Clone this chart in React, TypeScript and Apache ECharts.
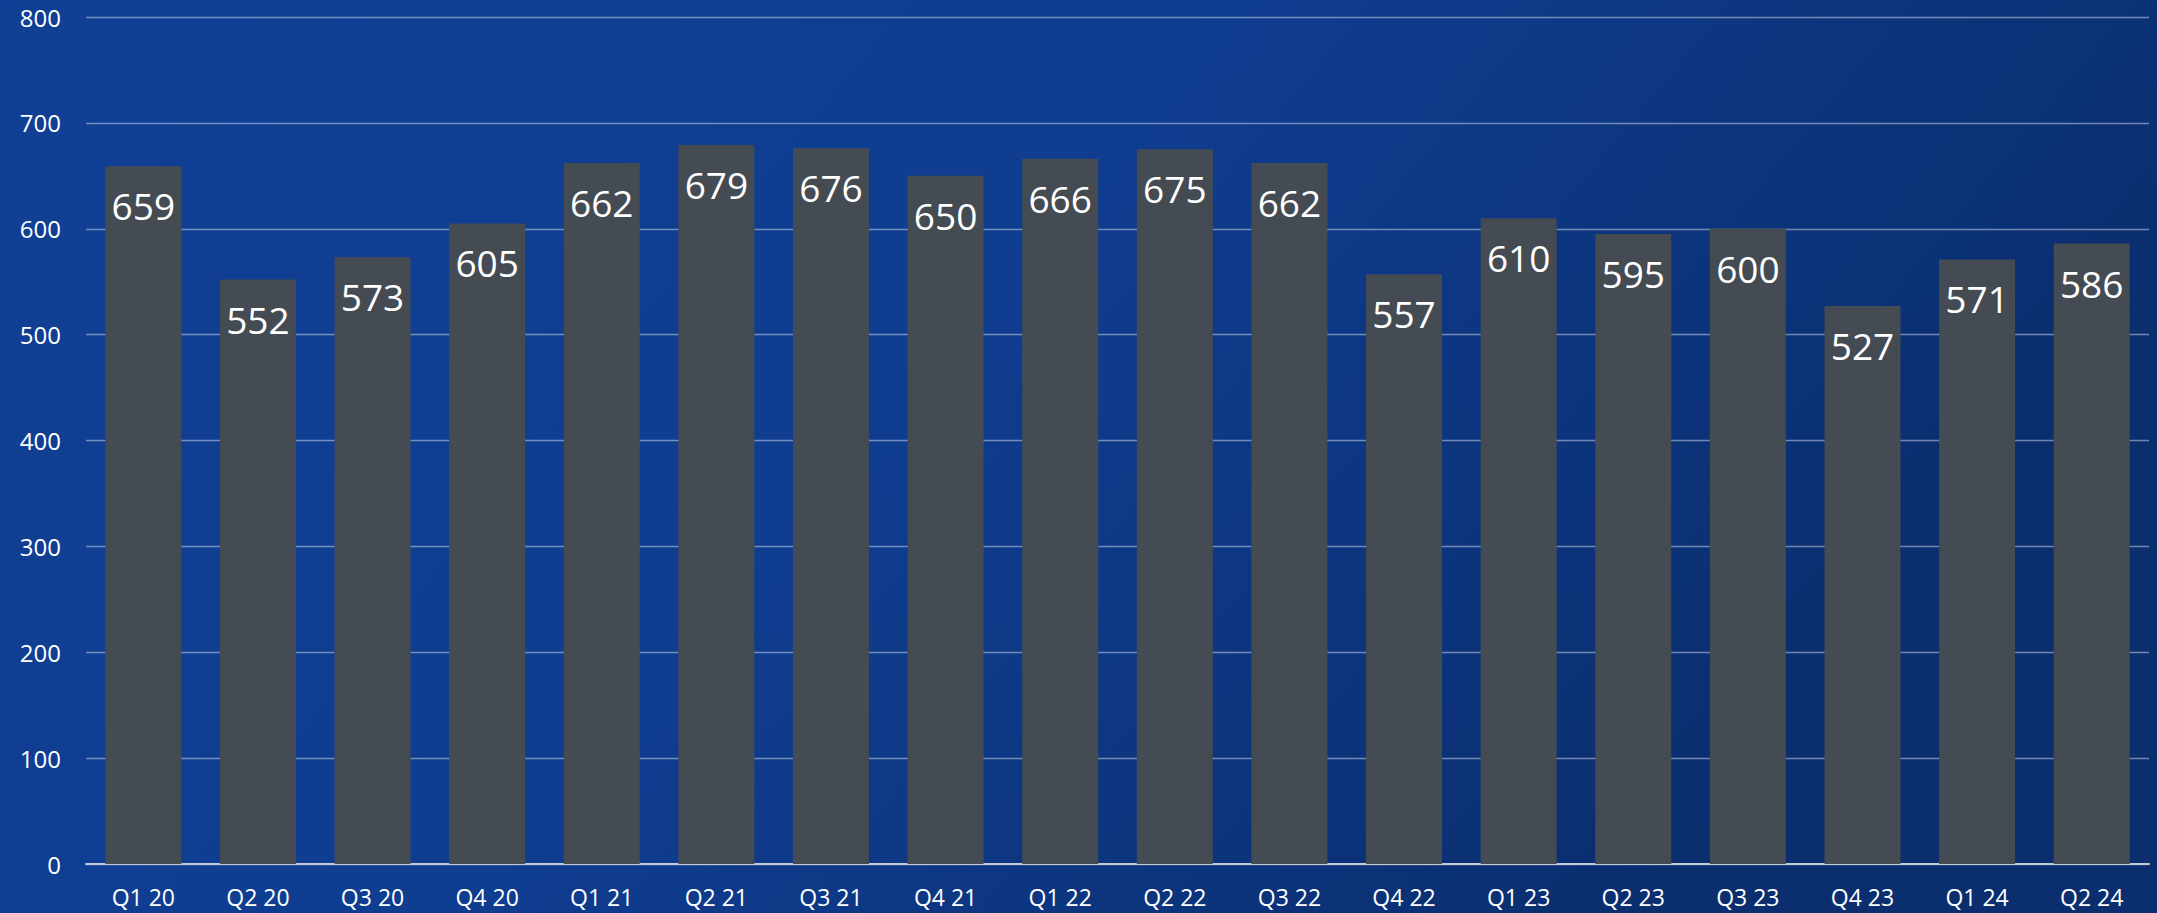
import React, { useEffect, useRef } from "react";
import * as echarts from "echarts";

const categories = [
  "Q1 20", "Q2 20", "Q3 20", "Q4 20",
  "Q1 21", "Q2 21", "Q3 21", "Q4 21",
  "Q1 22", "Q2 22", "Q3 22", "Q4 22",
  "Q1 23", "Q2 23", "Q3 23", "Q4 23",
  "Q1 24", "Q2 24",
];
const values = [659, 552, 573, 605, 662, 679, 676, 650, 666, 675, 662, 557, 610, 595, 600, 527, 571, 586];
const yMin = 0;
const yMax = 800;
const yInterval = 100;

export default function App() {
  const ref = useRef<HTMLDivElement>(null);
  useEffect(() => {
    document.body.style.margin = "0";
    const chart = echarts.init(ref.current!, null, { renderer: "svg" });
    chart.setOption({
      animation: false,
      backgroundColor: new echarts.graphic.LinearGradient(0, 0, 1, 0.35, [
        { offset: 0, color: "#103f95" },
        { offset: 0.5, color: "#0f3d90" },
        { offset: 1, color: "#0a2e6e" },
      ]),
      grid: { left: 86, right: 8, top: 17, bottom: 49, containLabel: false },
      xAxis: {
        type: "category",
        data: categories,
        axisLine: { show: true, lineStyle: { color: "#c4cad6", width: 2 } },
        axisTick: { show: false },
        axisLabel: {
          color: "#ffffff",
          fontFamily: "Open Sans",
          fontSize: 23,
          margin: 21,
        },
      },
      yAxis: {
        type: "value",
        min: yMin,
        max: yMax,
        interval: yInterval,
        axisLine: { show: false },
        axisTick: { show: false },
        splitLine: { lineStyle: { color: "rgba(200,210,230,0.55)", width: 1.3 } },
        axisLabel: {
          color: "#ffffff",
          fontFamily: "Open Sans",
          fontSize: 24,
          margin: 25,
        },
      },
      series: [
        {
          type: "bar",
          data: values,
          barCategoryGap: "33.7%",
          itemStyle: { color: "#444b52" },
          label: {
            show: true,
            position: "insideTop",
            distance: 21,
            color: "#ffffff",
            fontFamily: "Open Sans",
            fontSize: 37,
          },
        },
      ],
    });
    return () => chart.dispose();
  }, []);
  return <div ref={ref} style={{ width: 2157, height: 913 }} />;
}
